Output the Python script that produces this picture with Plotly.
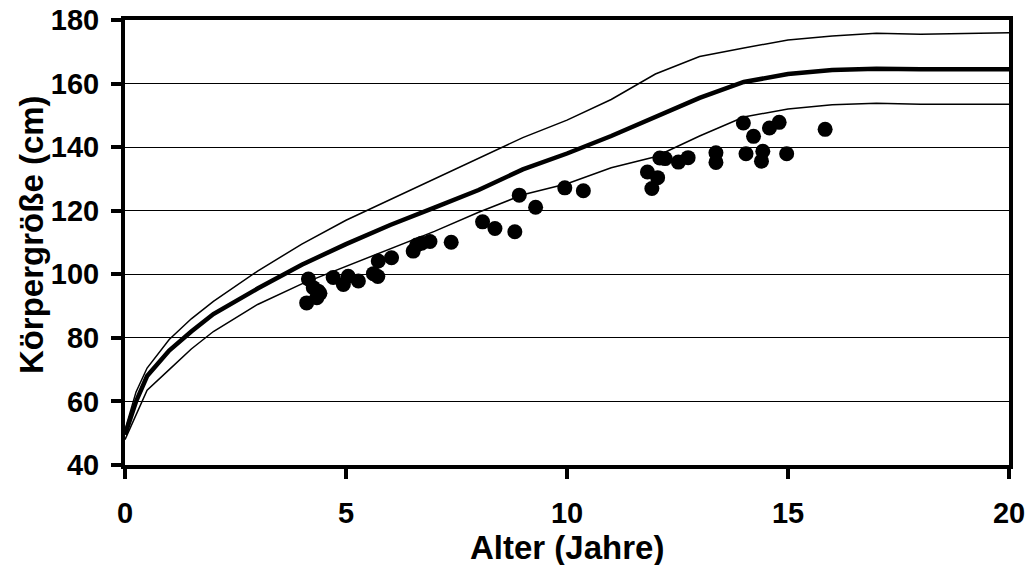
import plotly.graph_objects as go

# Reference curves (age in years)
ages = [0, 0.25, 0.5, 1, 1.5, 2, 3, 4, 5, 6, 7, 8, 9, 10, 11, 12, 13, 14, 15, 16, 17, 18, 19, 20]
p_upper = [51, 63, 70.5, 79.5, 86, 91.5, 101, 109.5, 117, 123.5, 130, 136.5, 143, 148.5, 155, 163, 168.5, 171.2, 173.7, 175, 175.8, 175.5, 175.7, 176]
p_median = [49.5, 60, 68, 76, 82, 87.5, 95.5, 103, 109.5, 115.5, 121, 126.5, 133, 138, 143.5, 149.5, 155.5, 160.5, 163, 164.3, 164.7, 164.5, 164.5, 164.5]
p_lower = [48, 56, 63.5, 70, 76.5, 82, 90.5, 97, 102.5, 108, 113.5, 119.5, 125, 128.5, 133.5, 137, 143.5, 149.5, 152, 153.3, 153.8, 153.5, 153.5, 153.5]

# Measured children
age_pts = [4.11, 4.15, 4.26, 4.34, 4.37, 4.41, 4.71, 4.94, 5.05, 5.28, 5.62, 5.72, 5.73, 6.03,
           6.52, 6.6, 6.71, 6.9, 7.38, 8.09, 8.37, 8.82, 8.92, 9.29, 9.95, 10.37,
           11.82, 11.92, 12.05, 12.1, 12.22, 12.52, 12.74, 13.37, 13.37, 14.05, 14.43, 14.40,
           14.97, 13.99, 14.22, 14.58, 14.80, 15.84]
height_pts = [91.0, 98.5, 95.8, 92.6, 94.7, 94.0, 99.0, 96.8, 99.4, 97.9, 100.2, 99.3, 104.2, 105.2,
              107.3, 109.2, 109.8, 110.3, 110.1, 116.5, 114.4, 113.4, 124.9, 121.1, 127.2, 126.3,
              132.2, 127.0, 130.4, 136.6, 136.4, 135.3, 136.7, 138.2, 135.2, 137.9, 138.7, 135.6,
              137.9, 147.6, 143.4, 146.0, 147.8, 145.6]

x_ticks = [0, 5, 10, 15, 20]
y_ticks = [40, 60, 80, 100, 120, 140, 160, 180]
x_title = "Alter (Jahre)"
y_title = "Körpergröße (cm)"

fig = go.Figure()
fig.add_trace(go.Scatter(x=ages, y=p_upper, mode="lines", line=dict(color="black", width=1.5), showlegend=False))
fig.add_trace(go.Scatter(x=ages, y=p_lower, mode="lines", line=dict(color="black", width=1.5), showlegend=False))
fig.add_trace(go.Scatter(x=ages, y=p_median, mode="lines", line=dict(color="black", width=4.5), showlegend=False))
fig.add_trace(go.Scatter(x=age_pts, y=height_pts, mode="markers",
                         marker=dict(color="black", size=15, line=dict(width=0)), showlegend=False))

font_family = "Liberation Sans, Arial, sans-serif"
tick_font = dict(size=29, family=font_family, color="black", weight="bold")
title_font = dict(size=33, family=font_family, color="black")

fig.update_layout(
    width=1033, height=565,
    margin=dict(l=125, r=24, t=20, b=100),
    plot_bgcolor="white", paper_bgcolor="white",
    font=dict(family=font_family, color="black"),
    annotations=[
        dict(text="<b>" + x_title + "</b>", xref="paper", yref="paper", x=0.5, y=-0.186,
             xanchor="center", yanchor="middle", showarrow=False, font=title_font),
        dict(text="<b>" + y_title + "</b>", xref="paper", yref="paper", x=-0.105, y=0.517,
             xanchor="center", yanchor="middle", showarrow=False, textangle=-90, font=title_font),
    ],
)
fig.update_xaxes(
    range=[0, 20], tickvals=x_ticks, ticktext=[str(v) for v in x_ticks],
    showgrid=False, zeroline=False, automargin=False,
    showline=True, linecolor="black", linewidth=4, mirror=True,
    ticks="outside", ticklen=10, tickwidth=4, tickcolor="black",
    tickfont=tick_font, ticklabelstandoff=9,
)
fig.update_yaxes(
    range=[40, 180], tickvals=y_ticks, ticktext=[str(v) for v in y_ticks],
    showgrid=True, gridcolor="black", gridwidth=1, zeroline=False, automargin=False,
    showline=True, linecolor="black", linewidth=4, mirror=True,
    ticks="outside", ticklen=10, tickwidth=4, tickcolor="black",
    tickfont=tick_font, ticklabelstandoff=6,
)

fig.write_html("out.html", config={"displayModeBar": False},
               post_script="document.body.style.margin='0';")
